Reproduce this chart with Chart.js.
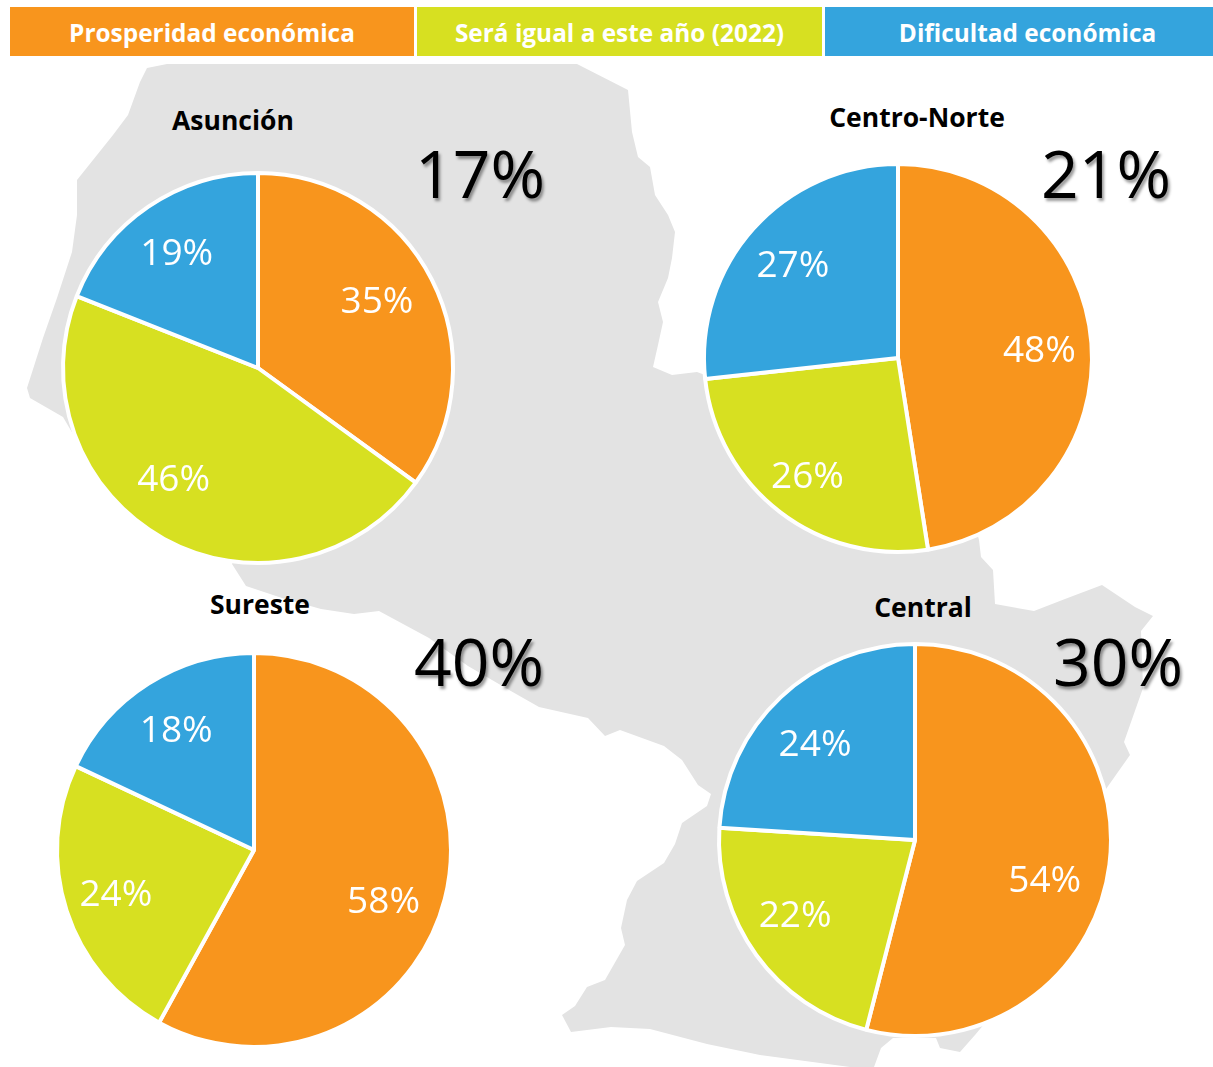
<!DOCTYPE html>
<html lang="es">
<head>
<meta charset="utf-8">
<title>Expectativas económicas por región</title>
<script src="https://cdn.jsdelivr.net/npm/chart.js@4"></script>
<style>
html,body{margin:0;padding:0;background:#fff;}
#stage{position:relative;width:1213px;height:1067px;overflow:hidden;font-family:"Open Sans",sans-serif;}
#map{position:absolute;left:0;top:0;filter:blur(0.6px);}
canvas{position:absolute;}
.band{position:absolute;top:7px;height:49px;line-height:51px;text-align:center;color:#fff;font-weight:700;font-size:24.4px;white-space:nowrap;box-sizing:border-box;}
.title{position:absolute;transform:translate(-50%,-50%);font-weight:700;font-size:26.5px;color:#000;white-space:nowrap;}
.big{position:absolute;transform:translate(-50%,-50%);font-size:66px;color:#000;white-space:nowrap;text-shadow:2px 3px 3px rgba(0,0,0,.4);}
</style>
</head>
<body>
<div id="stage">
<svg id="map" width="1213" height="1067"><polygon fill="#E3E3E3" points="147,68 167,64 577,64 628,90 632,132 638,157 650,167 655,195 668,215 675,232 672,258 668,278 658,302 663,322 658,345 653,367 672,375 697,372 705,375 900,400 975,525 979,540 981,557 993,570 995,604 1034,611 1065,599 1102,585 1135,607 1153,616 1141,631 1143,688 1124,742 1130,755 1106,789 1100,800 1000,1005 975,1035 960,1052 940,1048 936,1038 893,1038 881,1048 874,1067 850,1067 760,1055 707,1044 650,1029 611,1027 571,1032 562,1015 575,1006 587,987 605,980 625,945 621,928 627,900 637,881 664,863 675,844 682,823 707,806 711,794 698,785 682,760 664,746 620,730 605,736 588,718 539,707 504,687 468,666 429,638 379,611 354,614 321,609 282,598 246,586 232,564 233,560 100,480 63,417 30,398 27,388 43,338 57,298 72,252 77,215 77,180 113,135 128,115 140,82"/></svg>
</div>
<script>
const categories = ["Prosperidad económica", "Será igual a este año (2022)", "Dificultad económica"];
const colors = ["#F8951D", "#D7E021", "#34A4DD"];

const asuncionValues = [35, 46, 19];
const centroNorteValues = [48, 26, 27];
const suresteValues = [58, 24, 18];
const centralValues = [54, 22, 24];

const regionNames = ["Asunción", "Centro-Norte", "Sureste", "Central"];
const regionTotals = ["17%", "21%", "40%", "30%"];

// layout only
const layouts = [
  {values: asuncionValues,    cx: 258, cy: 368, r: 195, tx: 233, ty: 120, bx: 480, by: 172, nudge: [[-2,-4],[-19,-7],[-5,-1]]},
  {values: centroNorteValues, cx: 898, cy: 358, r: 194, tx: 917, ty: 117, bx: 1106, by: 172, nudge: [[6,4],[-8,12],[-4,-1]]},
  {values: suresteValues,     cx: 254, cy: 850, r: 197, tx: 260, ty: 604, bx: 479, by: 660, nudge: [[-2,19],[-9,3],[-5,-4]]},
  {values: centralValues,     cx: 915, cy: 840, r: 196, tx: 923, ty: 607, bx: 1118, by: 660, nudge: [[-5,24],[-10,-3],[-7,4]]}
];

const stage = document.getElementById("stage");
const bands = [[10,404,0],[417,405,0],[825,388,17]];
categories.forEach((c,i)=>{
  const d=document.createElement("div");
  d.className="band"; d.textContent=c;
  d.style.left=bands[i][0]+"px"; d.style.width=bands[i][1]+"px"; d.style.background=colors[i];
  d.style.paddingLeft=bands[i][2]+"px";
  stage.appendChild(d);
});

const sliceLabels = {
  id: "sliceLabels",
  afterDatasetsDraw(chart, args, opts) {
    const ctx = chart.ctx;
    const meta = chart.getDatasetMeta(0);
    const values = chart.data.datasets[0].data;
    ctx.save();
    ctx.fillStyle = "#fff";
    ctx.font = '37px "Open Sans"';
    ctx.textAlign = "center";
    ctx.textBaseline = "middle";
    meta.data.forEach((arc, i) => {
      const p = arc.getProps(["x","y","startAngle","endAngle","outerRadius"], true);
      const mid = (p.startAngle + p.endAngle) / 2;
      const d = 0.7 * 194;
      ctx.fillText(values[i] + "%", p.x + Math.cos(mid)*d + opts.nudge[i][0], p.y + Math.sin(mid)*d + opts.nudge[i][1]);
    });
    ctx.restore();
  }
};

layouts.forEach((l, idx) => {
  const size = 2 * (l.r + 8);
  const cv = document.createElement("canvas");
  cv.width = size; cv.height = size;
  cv.style.left = (l.cx - size/2) + "px";
  cv.style.top = (l.cy - size/2) + "px";
  cv.style.width = size + "px"; cv.style.height = size + "px";
  stage.appendChild(cv);
  new Chart(cv, {
    type: "pie",
    data: {
      labels: categories,
      datasets: [{data: l.values, backgroundColor: colors, borderColor: "#fff", borderWidth: 4, radius: l.r}]
    },
    options: {
      responsive: false,
      animation: false,
      layout: {padding: 0},
      plugins: {legend: {display: false}, tooltip: {enabled: false}, sliceLabels: {nudge: l.nudge}}
    },
    plugins: [sliceLabels]
  });
  const t = document.createElement("div");
  t.className = "title"; t.textContent = regionNames[idx];
  t.style.left = l.tx + "px"; t.style.top = l.ty + "px";
  stage.appendChild(t);
  const b = document.createElement("div");
  b.className = "big"; b.textContent = regionTotals[idx];
  b.style.left = l.bx + "px"; b.style.top = l.by + "px";
  stage.appendChild(b);
});
</script>
</body>
</html>
